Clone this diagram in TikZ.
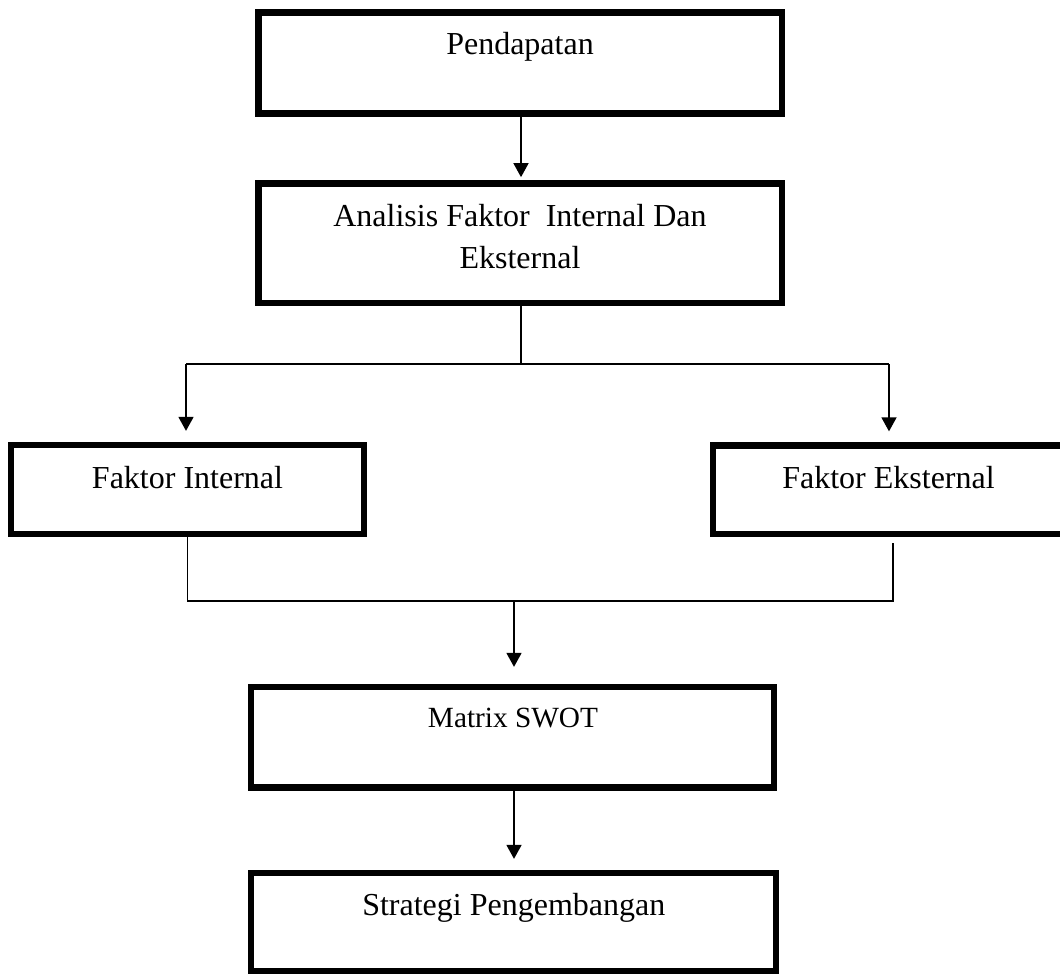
\documentclass[tikz,border=0pt]{standalone}
\usepackage{fontspec}
\setmainfont{Liberation Serif}
\usetikzlibrary{arrows.meta}
\begin{document}
\begin{tikzpicture}[x=1pt,y=-1pt,
  box/.style={draw=black, line width=6.3pt, rectangle, inner sep=0pt, fill=none},
  lbl/.style={inner sep=0pt, anchor=base, font=\fontsize{32}{42}\selectfont},
  lblsmall/.style={inner sep=0pt, anchor=base, font=\fontsize{29.3}{38}\selectfont},
  conn/.style={draw=black, line width=1.6pt},
  arr/.style={conn, -{Triangle[width=15pt,length=14pt]}}]
\clip (0,0) rectangle (1060,974);
\fill[white] (0,0) rectangle (1060,974);
% boxes
\node[box, minimum width=523.5pt, minimum height=101pt] (b1) at (520.25,63) {};
\node[box, minimum width=523.5pt, minimum height=119.2pt] (b2) at (520.25,243.1) {};
\node[box, minimum width=353pt, minimum height=89pt] (b3) at (187.5,489.5) {};
\node[box, minimum width=351pt, minimum height=88.5pt] (b4) at (888.5,489.75) {};
\node[box, minimum width=523pt, minimum height=100.5pt] (b5) at (512.5,737.25) {};
\node[box, minimum width=525pt, minimum height=98pt] (b6) at (513.5,922) {};
% texts
\node[lbl] (t1) at (520,55) {Pendapatan};
\node[lbl] (t2) at (520,226) {\begin{tabular}[t]{@{}c@{}}Analisis Faktor\ \ Internal Dan\\Eksternal\end{tabular}};
\node[lbl] (t3) at (187.5,488) {Faktor Internal};
\node[lbl] (t4) at (888.5,488) {Faktor Eksternal};
\node[lblsmall] (t5) at (513,727) {Matrix SWOT};
\node[lbl] (t6) at (513.8,915) {Strategi Pengembangan};
% connectors
\coordinate (j1) at (521,364);
\coordinate (jl) at (186,364);
\coordinate (jr) at (889,364);
\coordinate (kl) at (187.5,601);
\coordinate (kr) at (893,601);
\coordinate (km) at (514,601);
\draw[arr, shorten >=3.2pt] (b1.south -| j1) -- (b2.north -| j1);
\draw[conn] (b2.south -| j1) -- (j1);
\draw[conn] (jl) -- (jr);
\draw[arr, shorten >=11pt] (jl) -- (jl |- b3.north);
\draw[arr, shorten >=11pt] (jr) -- (jr |- b4.north);
\draw[conn] (b3.south -| kl) -- (kl) -- (kr) -- ([yshift=-6pt]kr |- b4.south);
\draw[arr, shorten >=17pt] (km) -- (km |- b5.north);
\draw[arr, shorten >=11pt] (b5.south -| km) -- (km |- b6.north);
\end{tikzpicture}
\end{document}
